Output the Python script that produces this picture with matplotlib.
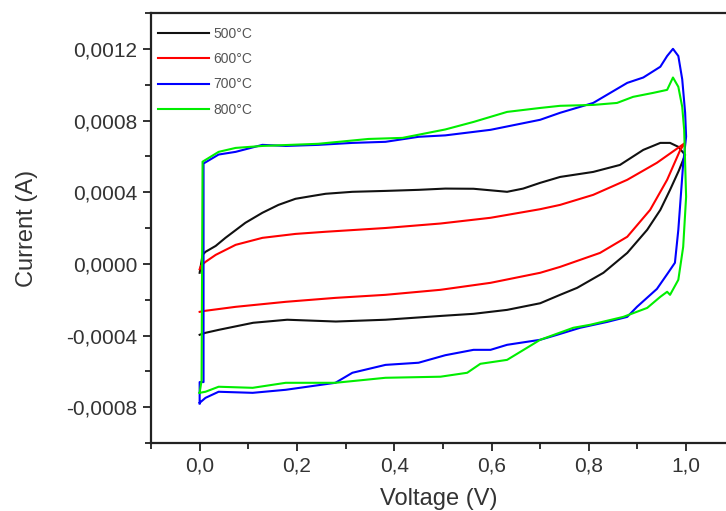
import numpy as np
import matplotlib
matplotlib.use("Agg")
import matplotlib.pyplot as plt
from matplotlib.ticker import MultipleLocator, FuncFormatter

plt.rcParams['font.family'] = ['Liberation Sans', 'DejaVu Sans']

# CV loops: voltage (V) and current (x1e-4 A), forward then reverse scan
v_500 = [0.0, 0.006, 0.012, 0.033, 0.053, 0.094, 0.129, 0.162, 0.197, 0.232, 0.259, 0.314, 0.382,
         0.45, 0.505, 0.563, 0.632, 0.665, 0.70, 0.741, 0.809, 0.864, 0.912, 0.947, 0.967, 0.984,
         0.998, 0.985, 0.967, 0.947, 0.92, 0.879, 0.83, 0.776, 0.741, 0.70, 0.632, 0.563, 0.5,
         0.382, 0.28, 0.18, 0.11, 0.04, 0.012, 0.0]
i_500 = [-0.5, 0.5, 0.67, 1.0, 1.45, 2.29, 2.85, 3.29, 3.63, 3.79, 3.91, 4.02, 4.07,
         4.13, 4.2, 4.19, 4.02, 4.2, 4.52, 4.85, 5.13, 5.52, 6.36, 6.75, 6.75, 6.53,
         6.08, 5.2, 4.13, 3.01, 1.9, 0.61, -0.5, -1.34, -1.73, -2.2, -2.57, -2.79, -2.9,
         -3.12, -3.22, -3.12, -3.29, -3.68, -3.85, -3.96]

v_600 = [0.0, 0.003, 0.012, 0.033, 0.074, 0.129, 0.197, 0.259, 0.382, 0.495, 0.598, 0.70, 0.741,
         0.809, 0.879, 0.94, 0.998, 0.988, 0.961, 0.926, 0.879, 0.823, 0.741, 0.70, 0.598, 0.495,
         0.382, 0.279, 0.177, 0.074, 0.012, 0.0]
i_600 = [-0.3, -0.1, 0.11, 0.5, 1.06, 1.45, 1.67, 1.79, 2.0, 2.25, 2.57, 3.05, 3.29,
         3.85, 4.69, 5.64, 6.75, 6.36, 4.69, 3.01, 1.51, 0.61, -0.17, -0.5, -1.06, -1.45,
         -1.73, -1.9, -2.12, -2.4, -2.62, -2.68]

v_700 = [0.0, 0.0, 0.008, 0.008, 0.039, 0.074, 0.129, 0.177, 0.244, 0.314, 0.382, 0.45, 0.505,
         0.598, 0.70, 0.741, 0.809, 0.879, 0.912, 0.947, 0.961, 0.973, 0.984, 0.992, 0.998, 1.0,
         0.994, 0.984, 0.977, 0.963, 0.94, 0.899, 0.879, 0.838, 0.782, 0.735, 0.70, 0.632, 0.598,
         0.563, 0.505, 0.45, 0.382, 0.314, 0.279, 0.177, 0.109, 0.039, 0.012, 0.0]
i_700 = [-7.8, -6.6, -6.6, 5.6, 6.1, 6.25, 6.64, 6.58, 6.64, 6.75, 6.81, 7.09, 7.17,
         7.48, 8.04, 8.43, 8.98, 10.1, 10.4, 11.0, 11.6, 12.0, 11.6, 10.3, 8.43, 7.1,
         5.6, 1.9, 0.06, -0.5, -1.4, -2.4, -2.96, -3.24, -3.57, -3.96, -4.24, -4.52, -4.8,
         -4.8, -5.1, -5.52, -5.64, -6.08, -6.64, -7.03, -7.2, -7.14, -7.48, -7.76]

v_800 = [0.0, 0.004, 0.006, 0.039, 0.074, 0.129, 0.244, 0.347, 0.417, 0.505, 0.563, 0.632, 0.70,
         0.741, 0.809, 0.858, 0.891, 0.932, 0.961, 0.973, 0.984, 0.992, 0.996, 1.0, 0.994, 0.984,
         0.967, 0.961, 0.947, 0.92, 0.871, 0.803, 0.768, 0.70, 0.632, 0.577, 0.55, 0.495, 0.382,
         0.279, 0.177, 0.109, 0.039, 0.012, 0.0]
i_800 = [-7.2, -6.5, 5.7, 6.25, 6.47, 6.58, 6.7, 6.97, 7.03, 7.5, 7.92, 8.48, 8.7,
         8.82, 8.87, 8.98, 9.32, 9.54, 9.71, 10.4, 9.88, 8.76, 7.48, 3.74, 0.95, -0.89,
         -1.73, -1.56, -1.84, -2.46, -2.96, -3.4, -3.57, -4.24, -5.36, -5.58, -6.08, -6.3, -6.36,
         -6.64, -6.64, -6.92, -6.86, -7.14, -7.2]

labels = ['500°C', '600°C', '700°C', '800°C']
colors = ['#111111', '#ff0000', '#0000ff', '#00ee00']

fig = plt.figure(figsize=(7.26, 5.11), dpi=100)
ax = fig.add_axes([151 / 726, 68 / 511, 575 / 726, 430 / 511])

series = [(v_500, i_500), (v_600, i_600), (v_700, i_700), (v_800, i_800)]
for (v, i), lab, col in zip(series, labels, colors):
    ax.plot(v, np.array(i) * 1e-4, color=col, lw=1.5, label=lab)

ax.set_xlim(-0.1, 1.082)
ax.set_ylim(-0.001, 0.0014)

ax.xaxis.set_major_locator(MultipleLocator(0.2))
ax.xaxis.set_minor_locator(MultipleLocator(0.1))
ax.yaxis.set_major_locator(MultipleLocator(0.0004))
ax.yaxis.set_minor_locator(MultipleLocator(0.0002))
ax.xaxis.set_major_formatter(FuncFormatter(lambda v, p: f"{v:.1f}".replace('.', ',').replace('-0,0', '0,0')))
ax.yaxis.set_major_formatter(FuncFormatter(lambda v, p: f"{v:.4f}".replace('.', ',').replace('-0,0000', '0,0000')))

ax.spines['right'].set_visible(False)
for s in ['left', 'bottom', 'top']:
    ax.spines[s].set_linewidth(1.6)
    ax.spines[s].set_color('#222222')
ax.tick_params(which='major', direction='out', length=6, width=1.3, colors='#222222',
               labelsize=15, labelcolor='#333333', pad=4, top=False, right=False)
ax.tick_params(which='minor', direction='out', length=4, width=1.3, colors='#222222',
               top=False, right=False)

ax.set_xlabel('Voltage (V)', fontsize=17, color='#333333', labelpad=9)
ax.set_ylabel('Current (A)', fontsize=17, color='#333333', labelpad=20)

leg = ax.legend(loc='upper left', bbox_to_anchor=(0.012, 0.967), frameon=False,
                fontsize=10, handlelength=3.7, handletextpad=0.3, labelspacing=0.8,
                borderpad=0, borderaxespad=0)
for t in leg.get_texts():
    t.set_color('#555555')

fig.savefig('out.png', dpi=100)
